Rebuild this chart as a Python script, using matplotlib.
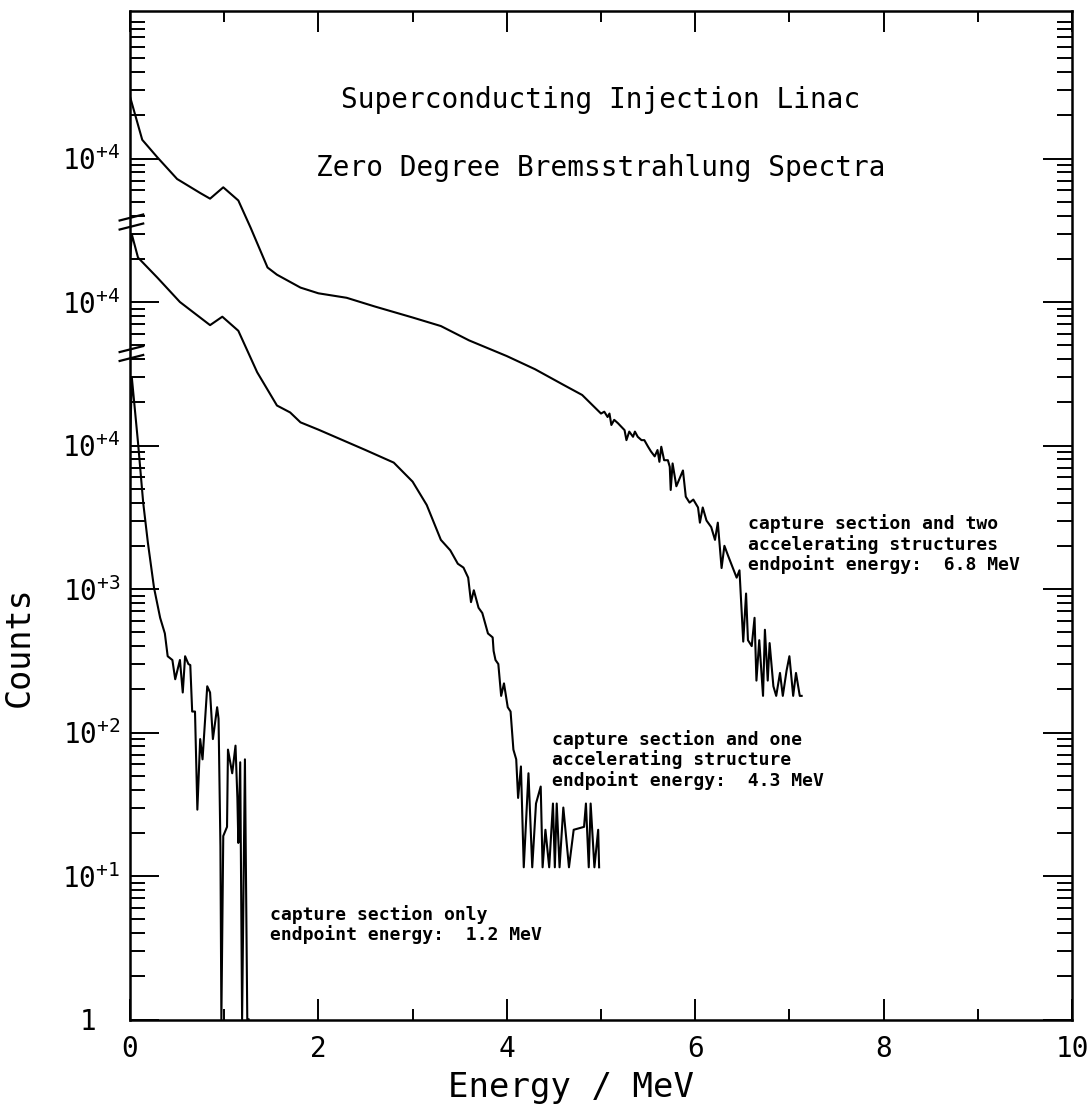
import matplotlib
matplotlib.use("Agg")
import numpy as np
import matplotlib.pyplot as plt
from matplotlib.ticker import LogLocator, MultipleLocator, NullFormatter

plt.rcParams['font.family'] = ['DejaVu Sans Mono', 'DejaVu Sans']

# capture section only (counts, own scale)
energy_a = [0.0, 0.02, 0.085, 0.14, 0.19, 0.255, 0.32, 0.37, 0.40, 0.45, 0.48, 0.53,
            0.56, 0.585, 0.62, 0.64, 0.66, 0.69, 0.715, 0.745, 0.77, 0.82, 0.85, 0.88,
            0.925, 0.94, 0.96, 0.97, 0.99, 1.03, 1.04, 1.085, 1.12, 1.14, 1.15, 1.17,
            1.19, 1.22, 1.245, 1.26]
counts_a = [10000, 29500, 10500, 4000, 2100, 1020, 630, 490, 340, 320, 235, 320,
            190, 340, 300, 295, 140, 140, 29, 90, 65, 210, 190, 90,
            150, 125, 16, 1, 19, 22, 76, 52, 81, 35, 17, 62,
            1, 65, 1, 1]

# capture section and one accelerating structure
energy_b = [0.0, 0.02, 0.085, 0.29, 0.53, 0.67, 0.85, 0.98, 1.15, 1.35, 1.46, 1.56,
            1.70, 1.81, 2.0, 2.5, 2.8, 3.0, 3.15, 3.30, 3.40, 3.48, 3.54, 3.59,
            3.62, 3.65, 3.70, 3.74, 3.80, 3.85, 3.86, 3.88, 3.91, 3.94, 3.97, 4.01,
            4.04, 4.07, 4.10, 4.12, 4.15, 4.18, 4.23, 4.27, 4.31, 4.36, 4.38, 4.41,
            4.45, 4.49, 4.51, 4.53, 4.56, 4.60, 4.66, 4.71, 4.82, 4.84, 4.87, 4.89,
            4.93, 4.97, 4.98]
counts_b = [20000, 29500, 20400, 14800, 10000, 8500, 6900, 7900, 6300, 3240, 2450, 1900,
            1700, 1450, 1290, 930, 760, 560, 385, 220, 186, 150, 141, 120,
            81, 98, 74, 68, 49, 46, 37, 32, 30, 18, 22, 15,
            14, 7.6, 6.5, 3.5, 5.8, 1.15, 5.2, 1.15, 3.2, 4.2, 1.15, 2.1,
            1.15, 3.2, 1.15, 3.2, 1.15, 3.0, 1.15, 2.1, 2.2, 3.2, 1.15, 3.2,
            1.15, 2.1, 1.15]

# capture section and two accelerating structures
energy_c = [0.0, 0.13, 0.29, 0.50, 0.745, 0.85, 0.99, 1.15, 1.28, 1.46, 1.56, 1.81,
            2.0, 2.3, 2.6, 3.0, 3.3, 3.6, 4.0, 4.3, 4.6, 4.8,
            5.00, 5.035, 5.07, 5.09, 5.11, 5.14, 5.18, 5.25, 5.27, 5.30, 5.34, 5.36,
            5.39, 5.43, 5.46, 5.50, 5.53, 5.57, 5.60, 5.62, 5.64, 5.67, 5.71, 5.73,
            5.74, 5.76, 5.80, 5.83, 5.87, 5.90, 5.94, 5.98, 6.03, 6.05, 6.08, 6.12,
            6.17, 6.21, 6.24, 6.28, 6.31, 6.35, 6.40, 6.44, 6.47, 6.51, 6.54, 6.56,
            6.60, 6.63, 6.65, 6.68, 6.72, 6.74, 6.77, 6.79, 6.83, 6.86, 6.90, 6.93,
            6.97, 7.00, 7.04, 7.07, 7.11, 7.13]
counts_c = [27000, 13500, 10200, 7200, 5750, 5250, 6300, 5100, 3300, 1740, 1550, 1260,
            1150, 1070, 930, 780, 680, 540, 420, 340, 265, 225,
            167, 172, 158, 167, 139, 151, 143, 128, 109, 125, 115, 125,
            115, 109, 109, 98, 91, 84, 93, 77, 98, 79, 79, 71,
            49, 75, 52, 58, 67, 44, 40, 42, 37, 29, 37, 30,
            27, 22, 29, 14, 20, 17, 14, 12, 13.5, 4.3, 9.3, 4.4,
            4.0, 6.3, 2.3, 4.4, 1.8, 5.2, 2.3, 4.2, 2.1, 1.8, 2.6, 1.8,
            2.7, 3.4, 1.8, 2.6, 1.8, 1.8]

# each spectrum is shifted by one decade on the shared axis
offsets = [1, 10, 100]

ytick_values = [1, 1e1, 1e2, 1e3, 1e4, 1e5, 1e6]
ytick_labels = ['1', r'$\mathregular{10^{+1}}$', r'$\mathregular{10^{+2}}$',
                r'$\mathregular{10^{+3}}$', r'$\mathregular{10^{+4}}$',
                r'$\mathregular{10^{+4}}$', r'$\mathregular{10^{+4}}$']

labels = ["capture section and two\naccelerating structures\nendpoint energy:  6.8 MeV",
          "capture section and one\naccelerating structure\nendpoint energy:  4.3 MeV",
          "capture section only\nendpoint energy:  1.2 MeV"]

fig = plt.figure(figsize=(10.92, 11.08), dpi=100)
ax = fig.add_axes([130 / 1092, 88.5 / 1108, 942 / 1092, 1008.5 / 1108])

series = [(energy_a, counts_a), (energy_b, counts_b), (energy_c, counts_c)]
for (e, c), off in zip(series, offsets):
    ax.plot(e, np.array(c) * off, color='black', lw=1.5)

ax.set_yscale('log')
ax.set_xlim(0, 10)
ax.set_ylim(1, 10 ** 7.028)

ax.xaxis.set_minor_locator(MultipleLocator(1))
ax.set_xticks([0, 2, 4, 6, 8, 10], ['0', '2', '4', '6', '8', '10'])
ax.set_yticks(ytick_values, ytick_labels)
ax.yaxis.set_minor_locator(LogLocator(base=10, subs=np.arange(2, 10), numticks=20))
ax.yaxis.set_minor_formatter(NullFormatter())

ax.tick_params(axis='y', which='major', direction='in', length=21, width=1.4,
               left=True, right=True, labelsize=20, pad=7)
ax.tick_params(axis='y', which='minor', direction='in', length=11, width=1.4,
               left=True, right=True)
ax.tick_params(axis='x', which='major', direction='in', length=15, width=1.4,
               top=True, bottom=True, labelsize=20, pad=11)
ax.tick_params(axis='x', which='minor', direction='in', length=8, width=1.4,
               top=True, bottom=True)
ax.yaxis.get_major_ticks()[0].set_pad(24)

for s in ax.spines.values():
    s.set_linewidth(1.8)

ax.set_xlabel('Energy / MeV', fontsize=24.5)
ax.xaxis.set_label_coords(0.468, -0.051)
ax.set_ylabel('Counts', fontsize=24)
ax.yaxis.set_label_coords(-0.1, 0.37)

ax.text(0.5, 0.912, 'Superconducting Injection Linac', transform=ax.transAxes,
        ha='center', va='center', fontsize=20)
ax.text(0.5, 0.844, 'Zero Degree Bremsstrahlung Spectra', transform=ax.transAxes,
        ha='center', va='center', fontsize=20)

ax.text(6.56, 10 ** 3.52, labels[0], ha='left', va='top', fontsize=13,
        fontweight='bold', linespacing=1.1)
ax.text(4.48, 10 ** 2.02, labels[1], ha='left', va='top', fontsize=13,
        fontweight='bold', linespacing=1.1)
ax.text(1.49, 10 ** 0.80, labels[2], ha='left', va='top', fontsize=13,
        fontweight='bold', linespacing=1.1)

# axis break marks on the left spine
ytrans = ax.get_yaxis_transform()
for yc in [5.589, 5.526, 4.672, 4.610]:
    ax.plot([-0.011, 0.014], [10 ** (yc - 3 / 143.5), 10 ** (yc + 3 / 143.5)],
            transform=ytrans, color='black', lw=1.6, clip_on=False)

fig.savefig('out.png', dpi=100)
